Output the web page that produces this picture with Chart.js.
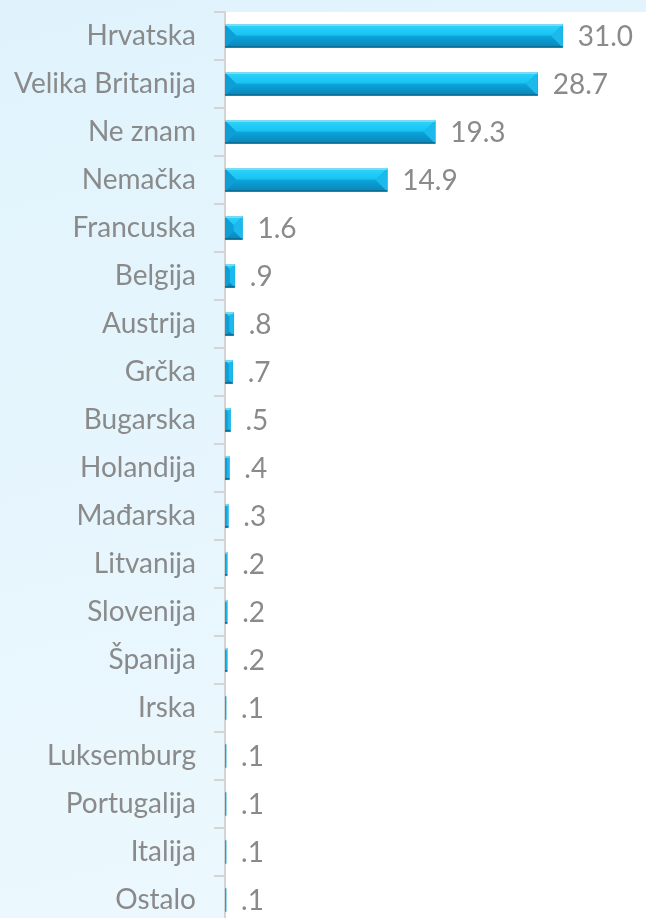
<!DOCTYPE html>
<html>
<head>
<meta charset="utf-8">
<script src="https://cdn.jsdelivr.net/npm/chart.js@4.4.1/dist/chart.umd.min.js"></script>
<style>
  html, body { margin: 0; padding: 0; overflow: hidden; background: #e6f5fd; }
  canvas { display: block; }
</style>
</head>
<body>
<canvas id="myBar" width="646" height="924"></canvas>
<script>
// data
const countries = ['Hrvatska', 'Velika Britanija', 'Ne znam', 'Nemačka', 'Francuska', 'Belgija', 'Austrija', 'Grčka', 'Bugarska', 'Holandija', 'Mađarska', 'Litvanija', 'Slovenija', 'Španija', 'Irska', 'Luksemburg', 'Portugalija', 'Italija', 'Ostalo'];
const percents = [31.0, 28.7, 19.3, 14.9, 1.6, 0.9, 0.8, 0.7, 0.5, 0.4, 0.3, 0.2, 0.2, 0.2, 0.1, 0.1, 0.1, 0.1, 0.1];

const grayText = '#8a8a8a';
const fontFam = 'Lato, "Open Sans", sans-serif';

function fmt(v) {
    // .9 style, no leading zero
    return v.toFixed(1).replace(/^0/, '');
}

// background: light blue around, white plot area
const bgPlugin = {
    id: 'bgPlugin',
    beforeDraw(chart) {
        const c = chart.ctx;
        const a = chart.chartArea;
        const g = c.createLinearGradient(0, 0, 220, chart.height);
        g.addColorStop(0, '#e0f3fc');
        g.addColorStop(1, '#ecf8fe');
        c.save();
        c.fillStyle = g;
        c.fillRect(0, 0, chart.width, chart.height);
        c.fillStyle = '#ffffff';
        c.fillRect(a.left, a.top, chart.width - a.left, chart.height - a.top);
        c.restore();
    }
};

// bevel look on the bars + value labels
const bevelPlugin = {
    id: 'bevelPlugin',
    afterDatasetsDraw(chart) {
        const c = chart.ctx;
        const meta = chart.getDatasetMeta(0);
        c.save();
        meta.data.forEach(function (bar, i) {
            const p = bar.getProps(['x', 'y', 'base', 'height'], true);
            const l = Math.min(p.base, p.x), r = Math.max(p.base, p.x);
            const t = p.y - p.height / 2, b = p.y + p.height / 2;
            const w = r - l;
            if (w > 2) {
                const d = Math.min(p.height / 2, w / 2, 11);
                function poly(pts, col) {
                    c.beginPath();
                    c.moveTo(pts[0][0], pts[0][1]);
                    for (let k = 1; k < pts.length; k++) c.lineTo(pts[k][0], pts[k][1]);
                    c.closePath();
                    c.fillStyle = col;
                    c.fill();
                }
                const mid = (t + b) / 2;
                // top face
                const gt = c.createLinearGradient(0, t, 0, mid);
                gt.addColorStop(0, '#2fd3fa');
                gt.addColorStop(1, '#14c2f2');
                poly([[l, t], [r, t], [r - d, t + d], [l + d, t + d]], gt);
                // bottom face
                const gb = c.createLinearGradient(0, mid, 0, b);
                gb.addColorStop(0, '#0ca3da');
                gb.addColorStop(1, '#0a86b8');
                poly([[l + d, b - d], [r - d, b - d], [r, b], [l, b]], gb);
                // left side
                poly([[l, t], [l + d, t + d], [l + d, b - d], [l, b]], '#0e9fd6');
                // right side
                poly([[r, t], [r, b], [r - d, b - d], [r - d, t + d]], '#1bb9ec');
                // edges
                c.fillStyle = '#0a6f96';
                c.fillRect(l, b - 1.5, w, 1.5);
                c.fillStyle = 'rgba(200,240,252,0.9)';
                c.fillRect(l, t, w, 1);
            }
            // value label
            c.fillStyle = grayText;
            c.font = '28px ' + fontFam;
            c.textAlign = 'left';
            c.textBaseline = 'middle';
            c.fillText(fmt(percents[i]), p.x + 15, p.y + 1);
        });
        c.restore();
    }
};

new Chart(document.getElementById('myBar'), {
    type: 'bar',
    data: {
        labels: countries,
        datasets: [{
            label: 'Zemlje',
            data: percents,
            backgroundColor: '#0ca6dc',
            borderWidth: 0,
            barThickness: 23
        }]
    },
    options: {
        indexAxis: 'y',
        responsive: false,
        animation: false,
        devicePixelRatio: 1,
        layout: { padding: { top: 12, right: 7, left: 0, bottom: 0 } },
        plugins: {
            legend: { display: false },
            tooltip: { enabled: false }
        },
        scales: {
            x: {
                display: false,
                min: 0,
                max: 38
            },
            y: {
                afterFit: function (scale) {
                    scale.width = 225;
                    scale.paddingTop = 0;
                    scale.paddingBottom = 0;
                },
                border: { display: true, color: '#d4d4d4', width: 2 },
                grid: {
                    offset: true,
                    drawOnChartArea: false,
                    drawTicks: true,
                    tickLength: 11,
                    color: '#d4d4d4',
                    lineWidth: 2
                },
                ticks: {
                    padding: 18,
                    color: grayText,
                    font: { family: fontFam, size: 28 }
                }
            }
        }
    },
    plugins: [bgPlugin, bevelPlugin]
});
</script>
</body>
</html>
